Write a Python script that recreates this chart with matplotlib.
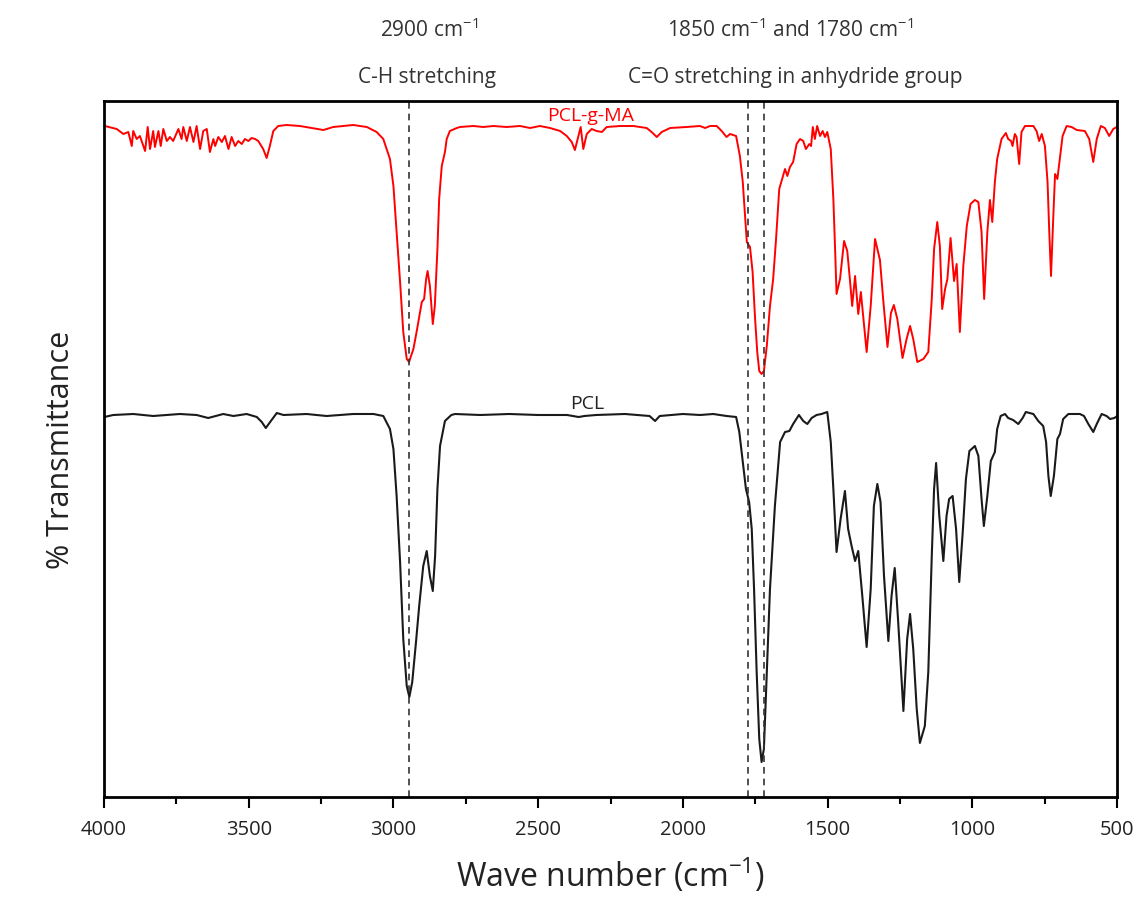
import matplotlib
matplotlib.use('Agg')
import matplotlib.pyplot as plt
from matplotlib.ticker import MultipleLocator

plt.rcParams['font.family'] = ['Open Sans', 'DejaVu Sans']
plt.rcParams['mathtext.default'] = 'regular'

# PCL-g-MA spectrum (wave number, transmittance a.u.)
wn_ma = [3997, 3956, 3933, 3916, 3904, 3899, 3887, 3876, 3858, 3849, 3841, 3830, 3824, 3812, 3804, 3795,
         3783, 3772, 3761, 3743, 3732, 3726, 3714, 3703, 3691, 3680, 3668, 3657, 3645, 3634, 3622, 3616,
         3605, 3593, 3582, 3570, 3559, 3547, 3536, 3524, 3513, 3501, 3490, 3478, 3467, 3450, 3438, 3427,
         3415, 3398, 3369, 3323, 3242, 3208, 3139, 3092, 3058, 3035, 3012, 3000, 2989, 2977, 2966, 2954,
         2946, 2931, 2920, 2902, 2894, 2887, 2882, 2874, 2864, 2857, 2848, 2842, 2833, 2822, 2816, 2805,
         2781, 2770, 2724, 2689, 2655, 2609, 2563, 2528, 2494, 2459, 2424, 2401, 2384, 2373, 2361, 2353,
         2344, 2332, 2315, 2298, 2280, 2263, 2217, 2171, 2125, 2108, 2090, 2073, 2044, 1987, 1941, 1923,
         1906, 1883, 1866, 1849, 1837, 1826, 1816, 1803, 1793, 1785, 1779, 1768, 1759, 1751, 1743, 1736,
         1728, 1720, 1710, 1699, 1688, 1678, 1667, 1659, 1647, 1639, 1630, 1619, 1607, 1595, 1584, 1575,
         1563, 1557, 1551, 1544, 1536, 1526, 1517, 1509, 1501, 1489, 1480, 1474, 1469, 1457, 1443, 1432,
         1423, 1415, 1405, 1394, 1385, 1377, 1365, 1351, 1336, 1319, 1308, 1293, 1281, 1271, 1259, 1241,
         1227, 1215, 1204, 1190, 1169, 1152, 1140, 1132, 1121, 1112, 1104, 1094, 1086, 1075, 1063, 1054,
         1043, 1031, 1019, 1006, 991, 979, 968, 959, 948, 939, 931, 922, 914, 899, 884, 876,
         866, 861, 853, 847, 838, 830, 818, 789, 778, 769, 760, 749, 740, 734, 728, 720,
         714, 706, 699, 688, 674, 657, 639, 611, 596, 582, 570, 556, 542, 527, 513, 501]
t_ma = [671, 668, 663, 665, 651, 666, 658, 661, 646, 670, 648, 666, 650, 666, 651, 668,
        656, 660, 656, 668, 658, 670, 656, 670, 655, 671, 648, 666, 668, 645, 658, 651,
        660, 655, 661, 648, 660, 651, 656, 653, 658, 656, 659, 658, 656, 648, 639, 651,
        666, 671, 672, 671, 667, 670, 672, 670, 665, 658, 638, 611, 565, 515, 465, 438,
        435, 448, 465, 495, 498, 518, 526, 511, 473, 491, 548, 598, 631, 645, 658, 666,
        669, 670, 671, 670, 671, 670, 671, 669, 671, 669, 666, 661, 655, 647, 661, 670,
        648, 663, 668, 666, 665, 670, 671, 671, 669, 665, 660, 665, 669, 670, 671, 669,
        671, 671, 666, 660, 663, 662, 661, 641, 615, 581, 555, 550, 525, 481, 445, 426,
        423, 426, 451, 491, 518, 558, 608, 616, 628, 621, 630, 635, 653, 658, 656, 648,
        653, 651, 670, 658, 671, 661, 666, 660, 665, 648, 598, 548, 503, 518, 556, 546,
        518, 491, 521, 483, 505, 481, 445, 491, 558, 537, 498, 450, 484, 492, 478, 439,
        458, 471, 458, 435, 438, 445, 498, 548, 575, 551, 488, 508, 518, 559, 516, 533,
        465, 531, 571, 593, 597, 595, 565, 498, 565, 597, 575, 615, 638, 658, 664, 658,
        656, 651, 663, 660, 633, 665, 671, 671, 666, 656, 663, 651, 615, 565, 521, 581,
        623, 618, 635, 661, 671, 670, 667, 666, 658, 635, 658, 671, 669, 661, 668, 670]

# PCL spectrum
wn_pcl = [3999, 3968, 3899, 3830, 3738, 3680, 3640, 3588, 3553, 3507, 3472, 3455, 3441, 3426, 3403, 3380,
          3300, 3231, 3139, 3069, 3035, 3012, 3000, 2989, 2977, 2966, 2954, 2945, 2935, 2922, 2911, 2897,
          2885, 2874, 2864, 2856, 2848, 2839, 2822, 2800, 2787, 2700, 2600, 2500, 2400, 2360, 2340, 2300,
          2200, 2115, 2096, 2080, 2000, 1941, 1895, 1849, 1816, 1805, 1793, 1782, 1771, 1762, 1754, 1745,
          1736, 1728, 1720, 1710, 1699, 1682, 1664, 1647, 1632, 1619, 1599, 1584, 1570, 1555, 1538, 1521,
          1501, 1489, 1480, 1469, 1455, 1440, 1429, 1417, 1405, 1394, 1380, 1365, 1351, 1340, 1328, 1317,
          1305, 1290, 1279, 1268, 1256, 1238, 1225, 1215, 1204, 1192, 1181, 1164, 1152, 1140, 1132, 1125,
          1114, 1100, 1089, 1080, 1068, 1056, 1045, 1033, 1022, 1010, 991, 979, 968, 960, 948, 936,
          922, 914, 902, 887, 876, 859, 841, 826, 815, 789, 772, 755, 745, 737, 729, 718,
          706, 697, 686, 668, 628, 614, 599, 582, 570, 553, 536, 524, 509, 499]
t_pcl = [380, 382, 383, 381, 383, 382, 379, 383, 381, 383, 380, 375, 369, 375, 384, 382,
         383, 381, 383, 383, 381, 368, 348, 301, 235, 158, 111, 100, 115, 155, 191, 231,
         246, 221, 206, 241, 308, 351, 376, 382, 383, 382, 383, 382, 382, 380, 381, 382,
         383, 381, 376, 381, 383, 382, 383, 381, 380, 365, 335, 308, 295, 268, 208, 125,
         58, 35, 48, 125, 208, 291, 355, 365, 366, 373, 382, 376, 373, 379, 382, 383,
         385, 355, 308, 245, 278, 306, 268, 251, 236, 246, 201, 150, 208, 291, 313, 295,
         221, 156, 201, 229, 175, 86, 158, 183, 148, 88, 54, 71, 125, 241, 308, 334,
         281, 236, 281, 298, 301, 268, 215, 265, 318, 346, 351, 341, 298, 271, 301, 336,
         345, 368, 381, 383, 379, 377, 373, 379, 385, 383, 376, 371, 355, 321, 301, 321,
         358, 363, 378, 383, 383, 381, 373, 365, 373, 383, 381, 378, 379, 381]

marker_wn = [2945, 1775, 1720]

fig = plt.figure(figsize=(11.47, 9.04), dpi=100)
ax = fig.add_axes([104 / 1147, 1 - 798 / 904, 1013 / 1147, 696 / 904])

ax.plot(wn_ma, t_ma, color='#ff0000', lw=1.4, solid_joinstyle='round')
ax.plot(wn_pcl, t_pcl, color='#1a1a1a', lw=1.5, solid_joinstyle='round')
for w in marker_wn:
    ax.axvline(w, color='#333333', lw=1.2, ls=(0, (4, 3)))

ax.text(2320, 682, 'PCL-g-MA', color='#ff0000', fontsize=14, ha='center', va='center')
ax.text(2330, 394, 'PCL', color='#222222', fontsize=14, ha='center', va='center')

ax.set_xlim(4000, 500)
ax.set_ylim(0, 696)
ax.xaxis.set_major_locator(MultipleLocator(500))
ax.xaxis.set_minor_locator(MultipleLocator(250))
ax.set_yticks([])
ax.tick_params(axis='x', which='major', direction='out', length=8, width=1.5, labelsize=14.5, pad=8,
               labelcolor='#222222')
ax.tick_params(axis='x', which='minor', direction='out', length=5, width=1.5)
ax.tick_params(top=False, right=False)
for s in ax.spines.values():
    s.set_linewidth(2)

ax.set_xlabel('Wave number (cm$^{-1}$)', fontsize=23, labelpad=12, color='#222222')
ax.set_ylabel('% Transmittance', fontsize=22, labelpad=20, color='#222222')

fig.text(429 / 1147, 1 - 30 / 904, '2900 cm$^{-1}$', fontsize=15, ha='center', va='center', color='#333333')
fig.text(427 / 1147, 1 - 78 / 904, 'C-H stretching', fontsize=15, ha='center', va='center', color='#333333')
fig.text(790 / 1147, 1 - 30 / 904, '1850 cm$^{-1}$ and 1780 cm$^{-1}$', fontsize=15, ha='center', va='center', color='#333333')
fig.text(795 / 1147, 1 - 77 / 904, 'C=O stretching in anhydride group', fontsize=15, ha='center', va='center', color='#333333')

fig.savefig('out.png', dpi=100)
